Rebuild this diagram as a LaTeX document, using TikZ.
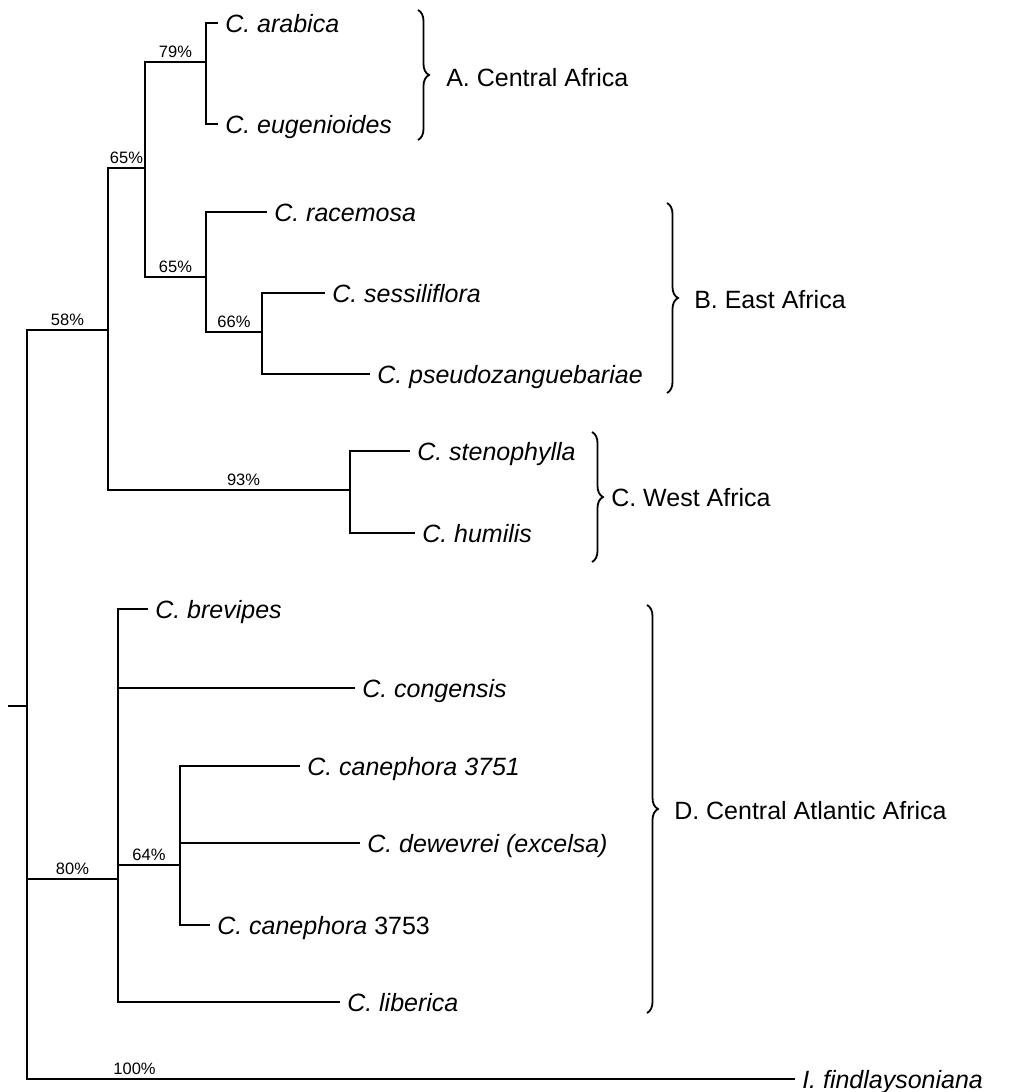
\documentclass[tikz,border=0pt]{standalone}
\usepackage{fontspec}
\setmainfont{Liberation Sans}
\usetikzlibrary{decorations.pathreplacing,positioning}

\begin{document}
\begin{tikzpicture} [x=1pt,y=-1pt,line width=2.5pt,
    leaf/.style={anchor=west,inner xsep=6pt,inner ysep=0pt,text height=19pt,text depth=1pt,font=\fontsize{25}{30}\selectfont\itshape},
    clade/.style={anchor=west,inner sep=0pt,text height=19pt,text depth=1pt,font=\fontsize{25}{30}\selectfont},
    pct/.style={above,inner sep=3pt,font=\fontsize{16.5}{20}\selectfont},
    grp/.style={decorate,decoration={brace,amplitude=11pt},line width=1.8pt}]
      \useasboundingbox (0,0) rectangle (1009,1092);

      \coordinate (stub) at (8,706);
      \coordinate (root) at (27,706);
      \coordinate (n58) at (108,330);
      \coordinate (n65a) at (145,168);
      \coordinate (n79) at (206,62);
      \coordinate (n65b) at (206,277);
      \coordinate (n66) at (262,332);
      \coordinate (n93) at (350,490);
      \coordinate (n80) at (118,879);
      \coordinate (n64) at (180,865);

      \draw (218,23) node[leaf] (arab) {C. arabica};
      \draw (218,124) node[leaf] (eug) {C. eugenioides};
      \draw (267,212) node[leaf] (race) {C. racemosa};
      \draw (325,293) node[leaf] (sess) {C. sessiliflora};
      \draw (370,374) node[leaf] (pseu) {C. pseudozanguebariae};
      \draw (410,451) node[leaf] (sten) {C. stenophylla};
      \draw (415,533) node[leaf] (humi) {C. humilis};
      \draw (148,609) node[leaf] (brev) {C. brevipes};
      \draw (355,688) node[leaf] (cong) {C. congensis};
      \draw (300,766) node[leaf] (cane1) {C. canephora 3751};
      \draw (360,843) node[leaf] (dewe) {C. dewevrei (excelsa)};
      \draw (210,925) node[leaf] (cane3) {C. canephora \upshape 3753};
      \draw (340,1002) node[leaf] (libe) {C. liberica};
      \draw (795,1079) node[leaf] (find) {I. findlaysoniana};

      \draw (stub) -- (root);
      \draw (root) |- node[pct,pos=.75] {58\%} (n58);
      \draw (root) |- node[pct,pos=.75] {80\%} (n80);
      \draw (root) |- node[pct,pos=.57] {100\%} (find.west);
      \draw (n58) |- node[pct,pos=.75] {65\%} (n65a);
      \draw (n58) |- node[pct,pos=.78] {93\%} (n93);
      \draw (n65a) |- node[pct,pos=.75] {79\%} (n79);
      \draw (n65a) |- node[pct,pos=.75] {65\%} (n65b);
      \draw (n79) |- (arab.west);
      \draw (n79) |- (eug.west);
      \draw (n65b) |- (race.west);
      \draw (n65b) |- node[pct,pos=.75] {66\%} (n66);
      \draw (n66) |- (sess.west);
      \draw (n66) |- (pseu.west);
      \draw (n93) |- (sten.west);
      \draw (n93) |- (humi.west);
      \draw (n80) |- (brev.west);
      \draw (n80) |- (cong.west);
      \draw (n80) |- node[pct,pos=.75] {64\%} (n64);
      \draw (n80) |- (libe.west);
      \draw (n64) |- (cane1.west);
      \draw (n64) |- (dewe.west);
      \draw (n64) |- (cane3.west);

      \coordinate (aT) at (418,10);
      \coordinate (aB) at (418,140);
      \coordinate (bT) at (667,203);
      \coordinate (bB) at (667,393);
      \coordinate (cT) at (592,432);
      \coordinate (cB) at (592,562);
      \coordinate (dT) at (647,605);
      \coordinate (dB) at (647,1013);
      \draw[grp] (aT) -- (aB);
      \draw[grp] (bT) -- (bB);
      \draw[grp] (cT) -- (cB);
      \draw[grp] (dT) -- (dB);
      \node[clade] (labA) at (445,77) {A. Central Africa};
      \node[clade] (labB) at (693,299) {B. East Africa};
      \node[clade] (labC) at (610,497) {C. West Africa};
      \node[clade] (labD) at (673,810) {D. Central Atlantic Africa};
\end{tikzpicture}
\end{document}
